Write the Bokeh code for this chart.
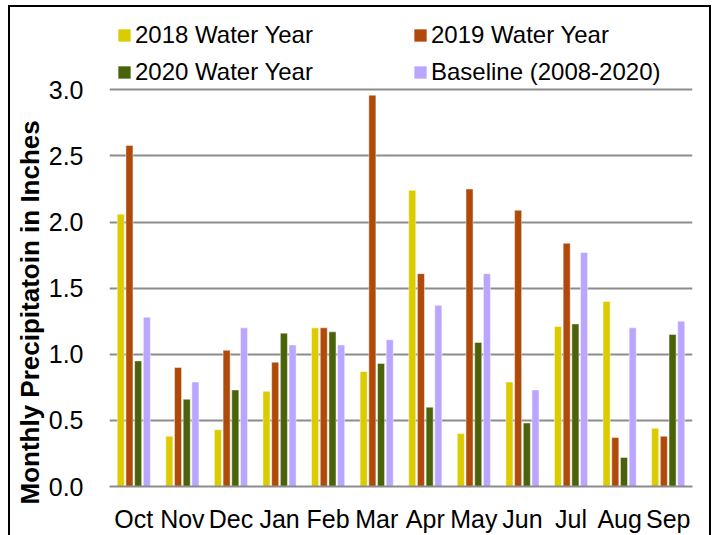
from bokeh.plotting import figure
from bokeh.models import (FixedTicker, PrintfTickFormatter, Range1d, Legend, LegendItem,
                          ColumnDataSource, Title)
from bokeh.embed import file_html
from bokeh.resources import INLINE

months = ["Oct", "Nov", "Dec", "Jan", "Feb", "Mar", "Apr", "May", "Jun", "Jul", "Aug", "Sep"]
wy2018 = [2.06, 0.38, 0.43, 0.72, 1.20, 0.87, 2.24, 0.40, 0.79, 1.21, 1.40, 0.44]
wy2019 = [2.58, 0.90, 1.03, 0.94, 1.20, 2.96, 1.61, 2.25, 2.09, 1.84, 0.37, 0.38]
wy2020 = [0.95, 0.66, 0.73, 1.16, 1.17, 0.93, 0.60, 1.09, 0.48, 1.23, 0.22, 1.15]
baseline = [1.28, 0.79, 1.20, 1.07, 1.07, 1.11, 1.37, 1.61, 0.73, 1.77, 1.20, 1.25]
series_names = ["2018 Water Year", "2019 Water Year", "2020 Water Year", "Baseline (2008-2020)"]
y_ticks = [0.0, 0.5, 1.0, 1.5, 2.0, 2.5, 3.0]
y_title = "Monthly Precipitatoin in Inches"

colors = ["#DCCB00", "#B04A0A", "#4A620A", "#BBA6FF"]
series = [wy2018, wy2019, wy2020, baseline]

# page placement of the figure (page coords)
FX, FY = 8, 5
W, H = 703, 530
frame_left, frame_right, frame_top, frame_bottom = 109, 692, 16, 490
axis_px_top = 90  # pixel row of the 3.0 gridline
y_top = 3.0 * (frame_bottom - frame_top) / (frame_bottom - axis_px_top)

p = figure(width=W, height=H, output_backend="svg", toolbar_location=None,
           x_range=Range1d(-0.5, 11.5), y_range=Range1d(0, y_top),
           min_border_left=frame_left - FX, min_border_right=FX + W - frame_right,
           min_border_top=frame_top - FY, min_border_bottom=FY + H - frame_bottom,
           background_fill_color=None, border_fill_color=None)
p.styles = {"margin-left": f"{FX}px", "margin-top": f"{FY}px",
            "box-shadow": "inset 2px 2px 0 0 #000, inset -2px 0 0 0 #000"}
p.outline_line_color = None

xs = list(range(len(months)))
pitch = 0.179
bw = 0.145
renderers = []
for k, (vals, col) in enumerate(zip(series, colors)):
    off = (k - 1.5) * pitch
    src = ColumnDataSource(dict(x=[x + off for x in xs], top=vals))
    r = p.vbar(x="x", top="top", width=bw, bottom=0, source=src,
               fill_color=col, line_color="white", line_alpha=0.45, line_width=1)
    renderers.append(r)

# axes
p.yaxis.ticker = FixedTicker(ticks=y_ticks)
p.yaxis.formatter = PrintfTickFormatter(format="%.1f")
p.yaxis.axis_line_color = None
p.yaxis.major_tick_line_color = None
p.yaxis.minor_tick_line_color = None
p.yaxis.major_label_text_font = "Liberation Sans"
p.yaxis.major_label_text_font_size = "25px"
p.yaxis.major_label_text_color = "#000000"
p.yaxis.major_label_standoff = 20

# y-axis title as a left-side title, shifted down like the original
p.add_layout(Title(text=y_title, align="left", offset=-18, standoff=2,
                   text_font="Liberation Sans", text_font_style="bold",
                   text_font_size="26px", text_color="#000000"), "left")

p.xaxis.ticker = FixedTicker(ticks=xs)
p.xaxis.major_label_overrides = {i: m for i, m in enumerate(months)}
p.xaxis.axis_line_color = "#8C8C8C"
p.xaxis.axis_line_width = 2
p.xaxis.major_tick_line_color = None
p.xaxis.minor_tick_line_color = None
p.xaxis.major_label_text_font = "Liberation Sans"
p.xaxis.major_label_text_font_size = "25px"
p.xaxis.major_label_text_color = "#000000"
p.xaxis.major_label_standoff = 12

p.xgrid.grid_line_color = None
p.ygrid.ticker = FixedTicker(ticks=y_ticks)
p.ygrid.grid_line_color = "#8C8C8C"
p.ygrid.grid_line_width = 2

order = [0, 2, 1, 3]  # legend fills column by column
legend = Legend(items=[LegendItem(label=series_names[i], renderers=[renderers[i]]) for i in order],
                ncols=2, location=(7, 400),
                label_text_font="Liberation Sans", label_text_font_size="24px",
                label_text_color="#000000", glyph_width=16, glyph_height=16,
                label_height=20, label_width=268, spacing=9, label_standoff=3,
                padding=0, margin=0, border_line_color=None, background_fill_alpha=0)
p.add_layout(legend, "center")

open("out.html", "w").write(file_html(p, INLINE))
